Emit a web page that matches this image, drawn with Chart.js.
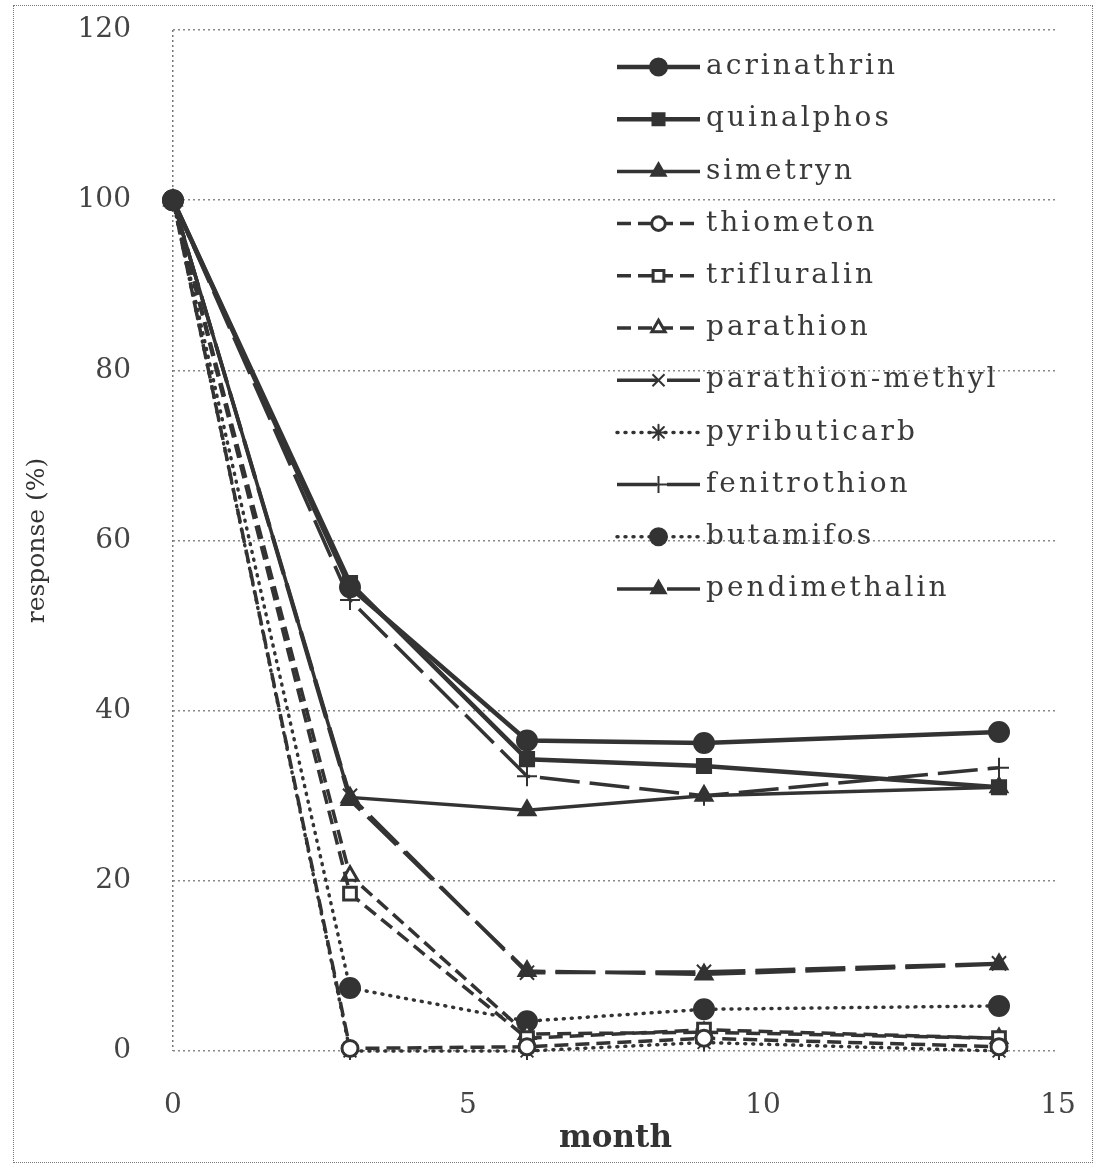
<!DOCTYPE html>
<html>
<head>
<meta charset="utf-8">
<script src="https://cdn.jsdelivr.net/npm/chart.js"></script>
<style>
  html, body { margin: 0; padding: 0; background: #fff; }
  #wrap { position: relative; width: 1096px; height: 1168px; }
  #frame { position: absolute; left: 13px; top: 5px; width: 1078px; height: 1156px; border: 1px dotted #777; pointer-events: none; }
</style>
</head>
<body>
<div id="wrap">
  <canvas id="myChart"></canvas>
  <div id="frame"></div>
</div>
<script>
// months sampled
const months = [0, 3, 6, 9, 14]

// response (%) per compound
const acrinathrin     = [100, 54.5, 36.5, 36.2, 37.5]
const quinalphos      = [100, 55.0, 34.3, 33.5, 31.0]
const simetryn        = [100, 29.8, 28.3, 30.0, 31.0]
const thiometon       = [100, 0.3, 0.5, 1.5, 0.5]
const trifluralin     = [100, 18.5, 1.5, 2.5, 1.5]
const parathion       = [100, 20.6, 2.0, 2.2, 1.5]
const parathionMethyl = [100, 30.0, 9.2, 9.3, 10.3]
const pyributicarb    = [100, 0.0, 0.0, 1.0, 0.0]
const fenitrothion    = [100, 53.0, 32.3, 30.0, 33.3]
const butamifos       = [100, 7.4, 3.5, 4.9, 5.3]
const pendimethalin   = [100, 29.5, 9.4, 9.0, 10.2]

const names = ['acrinathrin', 'quinalphos', 'simetryn', 'thiometon', 'trifluralin', 'parathion',
  'parathion-methyl', 'pyributicarb', 'fenitrothion', 'butamifos', 'pendimethalin']
const values = [acrinathrin, quinalphos, simetryn, thiometon, trifluralin, parathion,
  parathionMethyl, pyributicarb, fenitrothion, butamifos, pendimethalin]

const yTicks = [0, 20, 40, 60, 80, 100, 120]
const xTicks = [0, 5, 10, 15]

const ink = '#333'
const SOLID = [], DASH = [14, 7], LONG = [40, 10], DOT = [1, 7]
const styles = [
  { dash: SOLID, point: 'circle',   fill: ink,    r: 10, w: 4.5 },
  { dash: SOLID, point: 'rect',     fill: ink,    r: 10, w: 4.5 },
  { dash: SOLID, point: 'triangle', fill: ink,    r: 10, w: 3.5 },
  { dash: DASH,  point: 'circle',   fill: '#fff', r: 8,  w: 3.5 },
  { dash: DASH,  point: 'rect',     fill: '#fff', r: 9,  w: 3.5 },
  { dash: DASH,  point: 'triangle', fill: '#fff', r: 9,  w: 3.5 },
  { dash: LONG,  point: 'crossRot', fill: ink,    r: 10, w: 3.5 },
  { dash: DOT,   point: 'star',     fill: ink,    r: 9,  w: 3.5 },
  { dash: LONG,  point: 'cross',    fill: ink,    r: 10, w: 3.5 },
  { dash: DOT,   point: 'circle',   fill: ink,    r: 10, w: 3.5 },
  { dash: LONG,  point: 'triangle', fill: ink,    r: 10, w: 3.5 }
]

const datasets = names.map((n, i) => ({
  label: n,
  data: months.map((m, k) => ({ x: m, y: values[i][k] })),
  borderColor: ink,
  borderWidth: styles[i].w,
  borderDash: styles[i].dash,
  borderCapStyle: styles[i].dash === DOT ? 'round' : 'butt',
  pointStyle: styles[i].point,
  pointRadius: styles[i].r,
  pointBackgroundColor: styles[i].fill,
  pointBorderColor: ink,
  pointBorderWidth: styles[i].fill === '#fff' ? 3 : 2,
  tension: 0,
  clip: false
}))

// legend inside the plot, top right
const legendBox = {
  id: 'legendBox',
  afterDraw(chart) {
    const ctx = chart.ctx
    const x0 = 617, x1 = 700, top = 67, step = 52.2
    chart.data.datasets.forEach((ds, i) => {
      const y = top + i * step
      ctx.save()
      ctx.strokeStyle = ds.borderColor
      ctx.lineWidth = ds.borderWidth
      ctx.lineCap = ds.borderCapStyle
      ctx.setLineDash(ds.borderDash)
      ctx.beginPath()
      ctx.moveTo(x0, y)
      ctx.lineTo(x1, y)
      ctx.stroke()
      ctx.setLineDash([])
      ctx.fillStyle = ds.pointBackgroundColor
      ctx.strokeStyle = ds.pointBorderColor
      ctx.lineWidth = ds.pointBorderWidth
      Chart.helpers.drawPoint(ctx, {
        pointStyle: ds.pointStyle, radius: ds.pointRadius * 0.85, rotation: 0, borderWidth: ds.pointBorderWidth
      }, (x0 + x1) / 2, y)
      ctx.fillStyle = '#3a3a3a'
      ctx.font = '28px "DejaVu Serif"'
      ctx.letterSpacing = '3px'
      ctx.textBaseline = 'middle'
      ctx.textAlign = 'left'
      ctx.fillText(ds.label, x1 + 6, y)
      ctx.restore()
    })
  }
}

new Chart('myChart', {
  type: 'line',
  data: { datasets: datasets },
  plugins: [legendBox],
  options: {
    responsive: true,
    maintainAspectRatio: false,
    animation: false,
    layout: { padding: { left: 14, top: 30, right: 38, bottom: 10 } },
    plugins: { legend: { display: false }, tooltip: { enabled: false } },
    scales: {
      x: {
        type: 'linear',
        min: 0, max: 15,
        afterBuildTicks: s => { s.ticks = xTicks.map(v => ({ value: v })) },
        afterFit: s => { s.height = 107 },
        // only the line at month 0 is shown, as the dotted y axis
        grid: { display: true, lineWidth: 1.5, drawTicks: true, tickLength: 38, tickColor: 'rgba(0,0,0,0)',
          color: c => (c.tick && c.tick.value === 0) ? '#777' : 'rgba(0,0,0,0)' },
        border: { display: false, dash: [2, 3] },
        ticks: { padding: 0, color: '#444', font: { family: 'DejaVu Serif', size: 28 } },
        title: { display: true, text: 'month', color: '#333', padding: { top: 0, bottom: 0 },
          font: { family: 'DejaVu Serif', size: 31, weight: 'bold' } }
      },
      y: {
        min: 0, max: 120,
        afterBuildTicks: s => { s.ticks = yTicks.map(v => ({ value: v })) },
        afterFit: s => { s.width = 159 },
        grid: { color: '#888', lineWidth: 1.5, drawTicks: true, tickLength: 42, tickColor: 'rgba(0,0,0,0)' },
        border: { display: false, dash: [2, 3] },
        ticks: { padding: 0, color: '#444', font: { family: 'DejaVu Serif', size: 28 } },
        title: { display: true, text: 'response (%)', color: '#333', padding: { top: 8, bottom: 0 },
          font: { family: 'DejaVu Serif', size: 25 } }
      }
    }
  }
})
</script>
</body>
</html>
